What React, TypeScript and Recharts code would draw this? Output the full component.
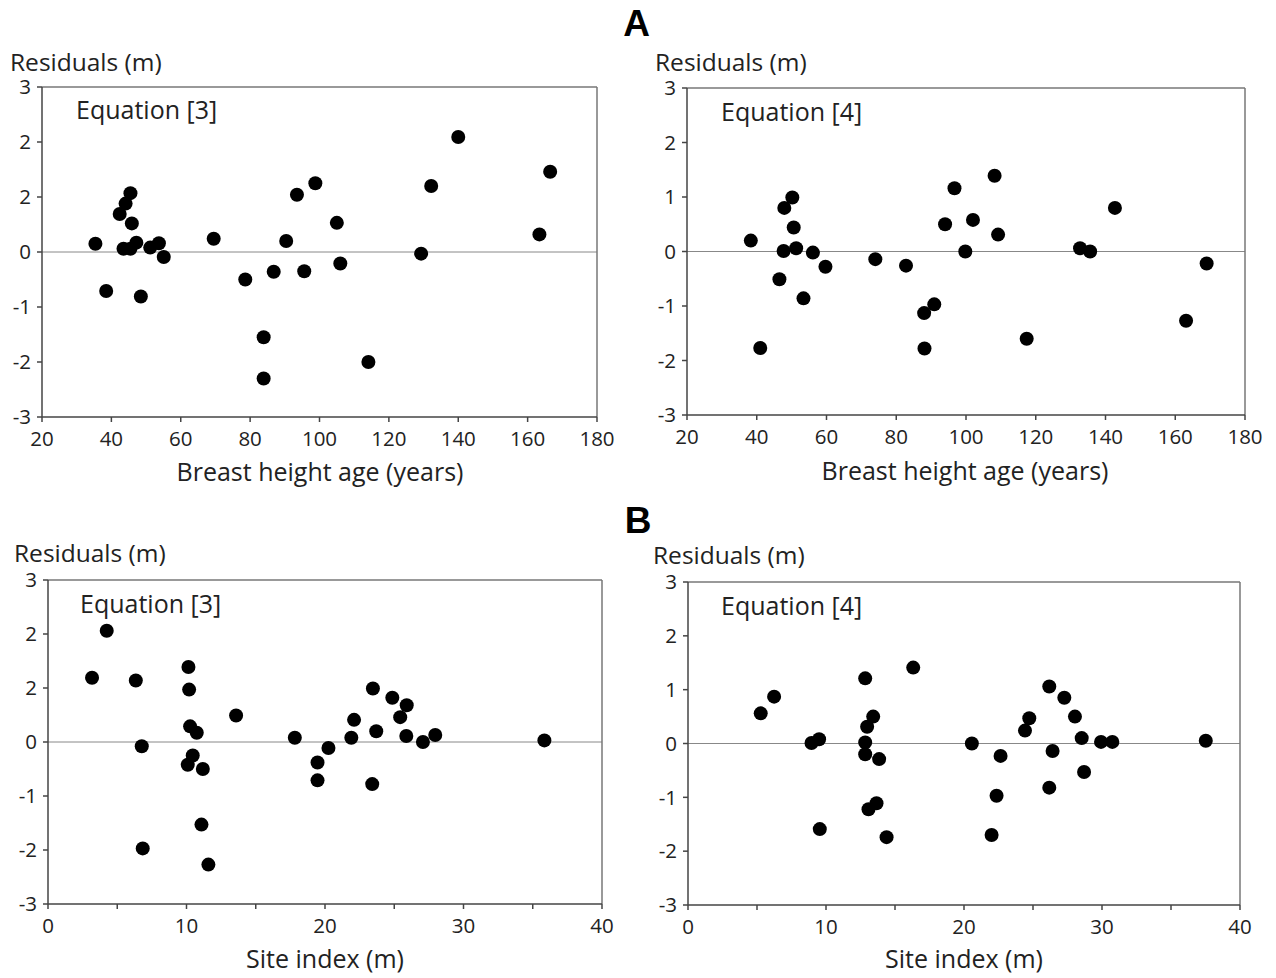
import React from 'react';
import { ScatterChart, Scatter, XAxis, YAxis, ReferenceLine } from 'recharts';

// ---- Data ----
const ageEq3 = [35.4, 38.5, 42.4, 44.1, 45.5, 45.9, 43.5, 45.5, 47.2, 48.5, 51.2, 53.7, 55.1, 69.5, 78.6, 83.9, 83.9, 86.8, 90.4, 93.5, 95.6, 98.8, 105.0, 106.0, 114.1, 129.3, 132.2, 140.0, 163.4, 166.5];
const residAgeEq3 = [0.15, -0.71, 0.69, 0.88, 1.07, 0.52, 0.06, 0.06, 0.17, -0.81, 0.08, 0.16, -0.09, 0.24, -0.5, -1.55, -2.3, -0.36, 0.2, 1.04, -0.35, 1.25, 0.53, -0.21, -2.0, -0.03, 1.2, 2.09, 0.32, 1.46];

const ageEq4 = [38.3, 41.0, 46.5, 47.9, 47.7, 50.2, 50.6, 51.3, 53.4, 56.1, 59.7, 74.0, 82.8, 88.0, 90.9, 88.1, 94.0, 96.7, 99.8, 102.0, 108.2, 109.2, 117.4, 132.7, 135.6, 142.7, 163.1, 169.0];
const residAgeEq4 = [0.2, -1.77, -0.51, 0.8, 0.01, 0.99, 0.44, 0.06, -0.86, -0.02, -0.28, -0.14, -0.26, -1.13, -0.97, -1.78, 0.5, 1.16, 0.0, 0.58, 1.39, 0.31, -1.6, 0.06, 0.0, 0.8, -1.27, -0.22];

const siteEq3 = [3.18, 4.24, 6.34, 6.77, 6.84, 10.14, 10.19, 10.26, 10.74, 10.45, 10.09, 11.18, 11.08, 11.58, 13.58, 17.82, 19.46, 19.46, 20.25, 21.9, 22.1, 23.46, 23.41, 23.7, 24.86, 25.43, 25.9, 25.87, 27.07, 27.96, 35.84];
const residSiteEq3 = [1.19, 2.06, 1.14, -0.08, -1.97, 1.39, 0.97, 0.29, 0.17, -0.25, -0.42, -0.5, -1.53, -2.27, 0.49, 0.08, -0.38, -0.71, -0.11, 0.08, 0.41, 0.99, -0.78, 0.2, 0.82, 0.46, 0.68, 0.11, 0.0, 0.13, 0.03];

const siteEq4 = [5.27, 6.24, 8.95, 9.5, 9.55, 12.84, 13.42, 12.98, 12.84, 12.84, 13.85, 13.66, 13.08, 14.39, 16.32, 20.57, 22.65, 22.36, 22.0, 24.42, 24.73, 26.18, 26.42, 26.18, 27.27, 28.04, 28.53, 28.7, 29.93, 30.75, 37.52];
const residSiteEq4 = [0.56, 0.87, 0.01, 0.08, -1.59, 1.21, 0.5, 0.31, 0.02, -0.2, -0.29, -1.11, -1.22, -1.74, 1.41, 0.0, -0.23, -0.97, -1.7, 0.24, 0.47, 1.06, -0.14, -0.82, 0.85, 0.5, 0.1, -0.53, 0.03, 0.03, 0.05];

const yTicks = [-3, -2, -1, 0, 1, 2, 3];
const yTickLabelsLeft = ['-3', '-2', '-1', '0', '2', '2', '3'];
const yTickLabelsRight = ['-3', '-2', '-1', '0', '1', '2', '3'];
const ageTicks = [20, 40, 60, 80, 100, 120, 140, 160, 180];
const siteTicks = [0, 5, 10, 15, 20, 25, 30, 35, 40];
const siteTickLabels = ['0', '', '10', '', '20', '', '30', '', '40'];

const FONT = "'Open Sans', 'Noto Sans', sans-serif";
const TEXT = '#222';

type PanelProps = {
  rect: [number, number, number, number]; // left, top, right, bottom of plot area (page coords)
  xs: number[];
  ys: number[];
  xDomain: [number, number];
  xTicks: number[];
  xLabels: string[];
  yLabels: string[];
};

const Dot = (props: any) => {
  const { cx, cy } = props;
  if (cx == null || cy == null) return null;
  return <circle cx={cx} cy={cy} r={7} fill="#000" />;
};

function Panel({ rect, xs, ys, xDomain, xTicks, xLabels, yLabels }: PanelProps) {
  const [pl, pt, pr, pb] = rect;
  const yw = 60;
  const mt = 20;
  const mr = 25;
  const xh = 40;
  const mb = 10;
  const cl = pl - yw;
  const ct = pt - mt;
  const W = pr - cl + mr;
  const H = pb - ct + xh + mb;
  const data = xs.map((x, i) => ({ x, y: ys[i] }));
  return (
    <div style={{ position: 'absolute', left: cl, top: ct, width: W, height: H }}>
      <ScatterChart width={W} height={H} margin={{ top: mt, right: mr, bottom: mb, left: 0 }}>
        <XAxis
          type="number"
          dataKey="x"
          domain={xDomain}
          ticks={xTicks}
          interval={0}
          height={xh}
          tickSize={5}
          tickMargin={9}
          tickFormatter={(v: number) => xLabels[xTicks.indexOf(v)] ?? ''}
          axisLine={{ stroke: '#444', strokeWidth: 1.5 }}
          tickLine={{ stroke: '#444', strokeWidth: 1.5 }}
          tick={{ fill: TEXT, fontSize: 20.5, fontFamily: FONT }}
          allowDataOverflow
        />
        <YAxis
          type="number"
          dataKey="y"
          domain={[-3, 3]}
          ticks={yTicks}
          interval={0}
          width={yw}
          tickSize={5}
          tickMargin={6}
          tickFormatter={(v: number) => yLabels[yTicks.indexOf(v)] ?? ''}
          axisLine={{ stroke: '#444', strokeWidth: 1.5 }}
          tickLine={{ stroke: '#444', strokeWidth: 1.5 }}
          tick={{ fill: TEXT, fontSize: 20.5, fontFamily: FONT }}
          allowDataOverflow
        />
        <ReferenceLine y={0} stroke="#888" strokeWidth={1} />
        <ReferenceLine y={3} stroke="#777" strokeWidth={1.5} />
        <ReferenceLine x={xDomain[1]} stroke="#777" strokeWidth={1.5} />
        <Scatter data={data} shape={Dot} isAnimationActive={false} />
      </ScatterChart>
    </div>
  );
}

export default function App() {
  return (
    <div
      style={{
        position: 'absolute',
        left: 0,
        top: 0,
        width: 1276,
        height: 978,
        background: '#fff',
        fontFamily: FONT,
        overflow: 'hidden',
      }}
    >
      <Panel rect={[42, 87, 597, 417]} xs={ageEq3} ys={residAgeEq3} xDomain={[20, 180]} xTicks={ageTicks} xLabels={ageTicks.map(String)} yLabels={yTickLabelsLeft} />
      <Panel rect={[687, 88, 1245, 415]} xs={ageEq4} ys={residAgeEq4} xDomain={[20, 180]} xTicks={ageTicks} xLabels={ageTicks.map(String)} yLabels={yTickLabelsRight} />
      <Panel rect={[48, 580, 602, 904]} xs={siteEq3} ys={residSiteEq3} xDomain={[0, 40]} xTicks={siteTicks} xLabels={siteTickLabels} yLabels={yTickLabelsLeft} />
      <Panel rect={[688, 582, 1240, 905]} xs={siteEq4} ys={residSiteEq4} xDomain={[0, 40]} xTicks={siteTicks} xLabels={siteTickLabels} yLabels={yTickLabelsRight} />
      <svg width={1276} height={978} style={{ position: 'absolute', left: 0, top: 0, pointerEvents: 'none' }}>
        <g fontFamily="'Liberation Sans', Arial, sans-serif" fontWeight="bold" fontSize={37} fill="#000" textAnchor="middle">
          <text x={636.5} y={36}>A</text>
          <text x={638} y={533}>B</text>
        </g>
        <g fontFamily={FONT} fontSize={24.5} fill={TEXT}>
          <text x={10} y={71}>Residuals (m)</text>
          <text x={655} y={71}>Residuals (m)</text>
          <text x={14} y={562}>Residuals (m)</text>
          <text x={653} y={564}>Residuals (m)</text>
          <text x={76} y={119} fontSize={25}>Equation [3]</text>
          <text x={721} y={121} fontSize={25}>Equation [4]</text>
          <text x={80} y={613} fontSize={25}>Equation [3]</text>
          <text x={721} y={615} fontSize={25}>Equation [4]</text>
          <text x={320} y={481} fontSize={25} textAnchor="middle">Breast height age (years)</text>
          <text x={965} y={480} fontSize={25} textAnchor="middle">Breast height age (years)</text>
          <text x={325} y={968} fontSize={25} textAnchor="middle">Site index (m)</text>
          <text x={964} y={968} fontSize={25} textAnchor="middle">Site index (m)</text>
        </g>
      </svg>
    </div>
  );
}
